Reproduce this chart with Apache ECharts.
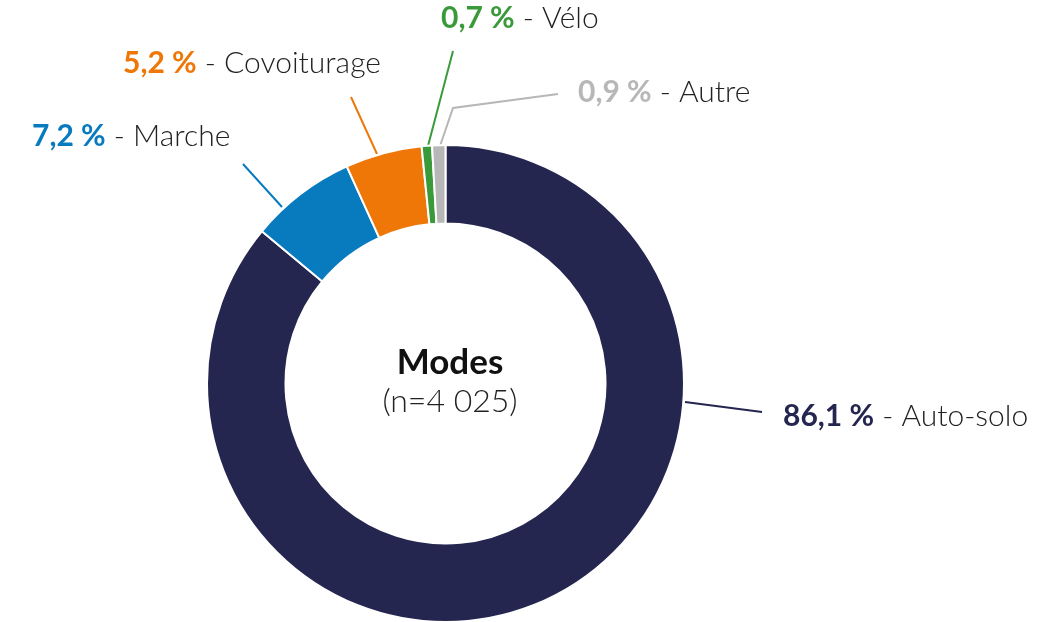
<!DOCTYPE html>
<html>
<head>
<meta charset="utf-8">
<title>Modes</title>
<script src="https://cdn.jsdelivr.net/npm/echarts@6/dist/echarts.min.js"></script>
<style>
  html, body { margin: 0; padding: 0; background: #fff; }
  #chart { width: 1051px; height: 622px; }
</style>
</head>
<body>
<div id="chart"></div>
<script>
const modes = ['Auto-solo', 'Marche', 'Covoiturage', 'Vélo', 'Autre']
const shares = [86.1, 7.2, 5.2, 0.7, 0.9]
const modeColors = ['#24264f', '#087bbf', '#ee7708', '#3a9a3a', '#b7b7b7']

// where each label sits (left edge x, middle y) and its leader line
const labelSpots = [
  { x: 783, y: 416, line: [[685, 402], [762, 412], [762, 412]] },
  { x: 32, y: 136, line: [[282, 207], [243, 164], [243, 164]] },
  { x: 123, y: 63, line: [[377, 154], [351, 97], [351, 97]] },
  { x: 441, y: 18, line: [[428, 146], [453, 51], [453, 51]] },
  { x: 578, y: 92, line: [[440, 146], [453, 108], [558, 94]] },
]

const FONT = 'Lato'

const chart = echarts.init(document.getElementById('chart'))

chart.setOption({
  animation: false,
  title: {
    text: '{a|Modes}\n{b|(n=4 025)}',
    left: 445,
    top: 338,
    textAlign: 'center',
    textStyle: {
      rich: {
        a: { fontFamily: FONT, fontWeight: 700, fontSize: 35, color: '#111', lineHeight: 40, align: 'center' },
        b: { fontFamily: FONT, fontWeight: 300, fontSize: 32, color: '#222', lineHeight: 38, align: 'center' },
      },
    },
  },
  series: [
    {
      type: 'pie',
      center: [445.5, 383.5],
      radius: [160, 238.5],
      startAngle: 90,
      clockwise: true,
      avoidLabelOverlap: false,
      emphasis: { disabled: true },
      itemStyle: { borderColor: '#fff', borderWidth: 2 },
      label: {
        show: true,
        position: 'outside',
        fontFamily: FONT,
        formatter: (p) => `{p|${p.value.toFixed(1).replace('.', ',')} %}{n| - ${p.name}}`,
        rich: {
          p: { fontFamily: FONT, fontWeight: 700, fontSize: 30 },
          n: { fontFamily: FONT, fontWeight: 300, fontSize: 30, color: '#222' },
        },
      },
      labelLine: { show: true, length: 20, length2: 0, lineStyle: { width: 2 } },
      labelLayout: (params) => {
        const spot = labelSpots[params.dataIndex]
        return {
          x: spot.x,
          y: spot.y,
          align: 'left',
          verticalAlign: 'middle',
          labelLinePoints: spot.line,
        }
      },
      data: modes.map((name, i) => ({
        name,
        value: shares[i],
        itemStyle: { color: modeColors[i] },
        label: { color: modeColors[i] },
      })),
    },
  ],
})
</script>
</body>
</html>
